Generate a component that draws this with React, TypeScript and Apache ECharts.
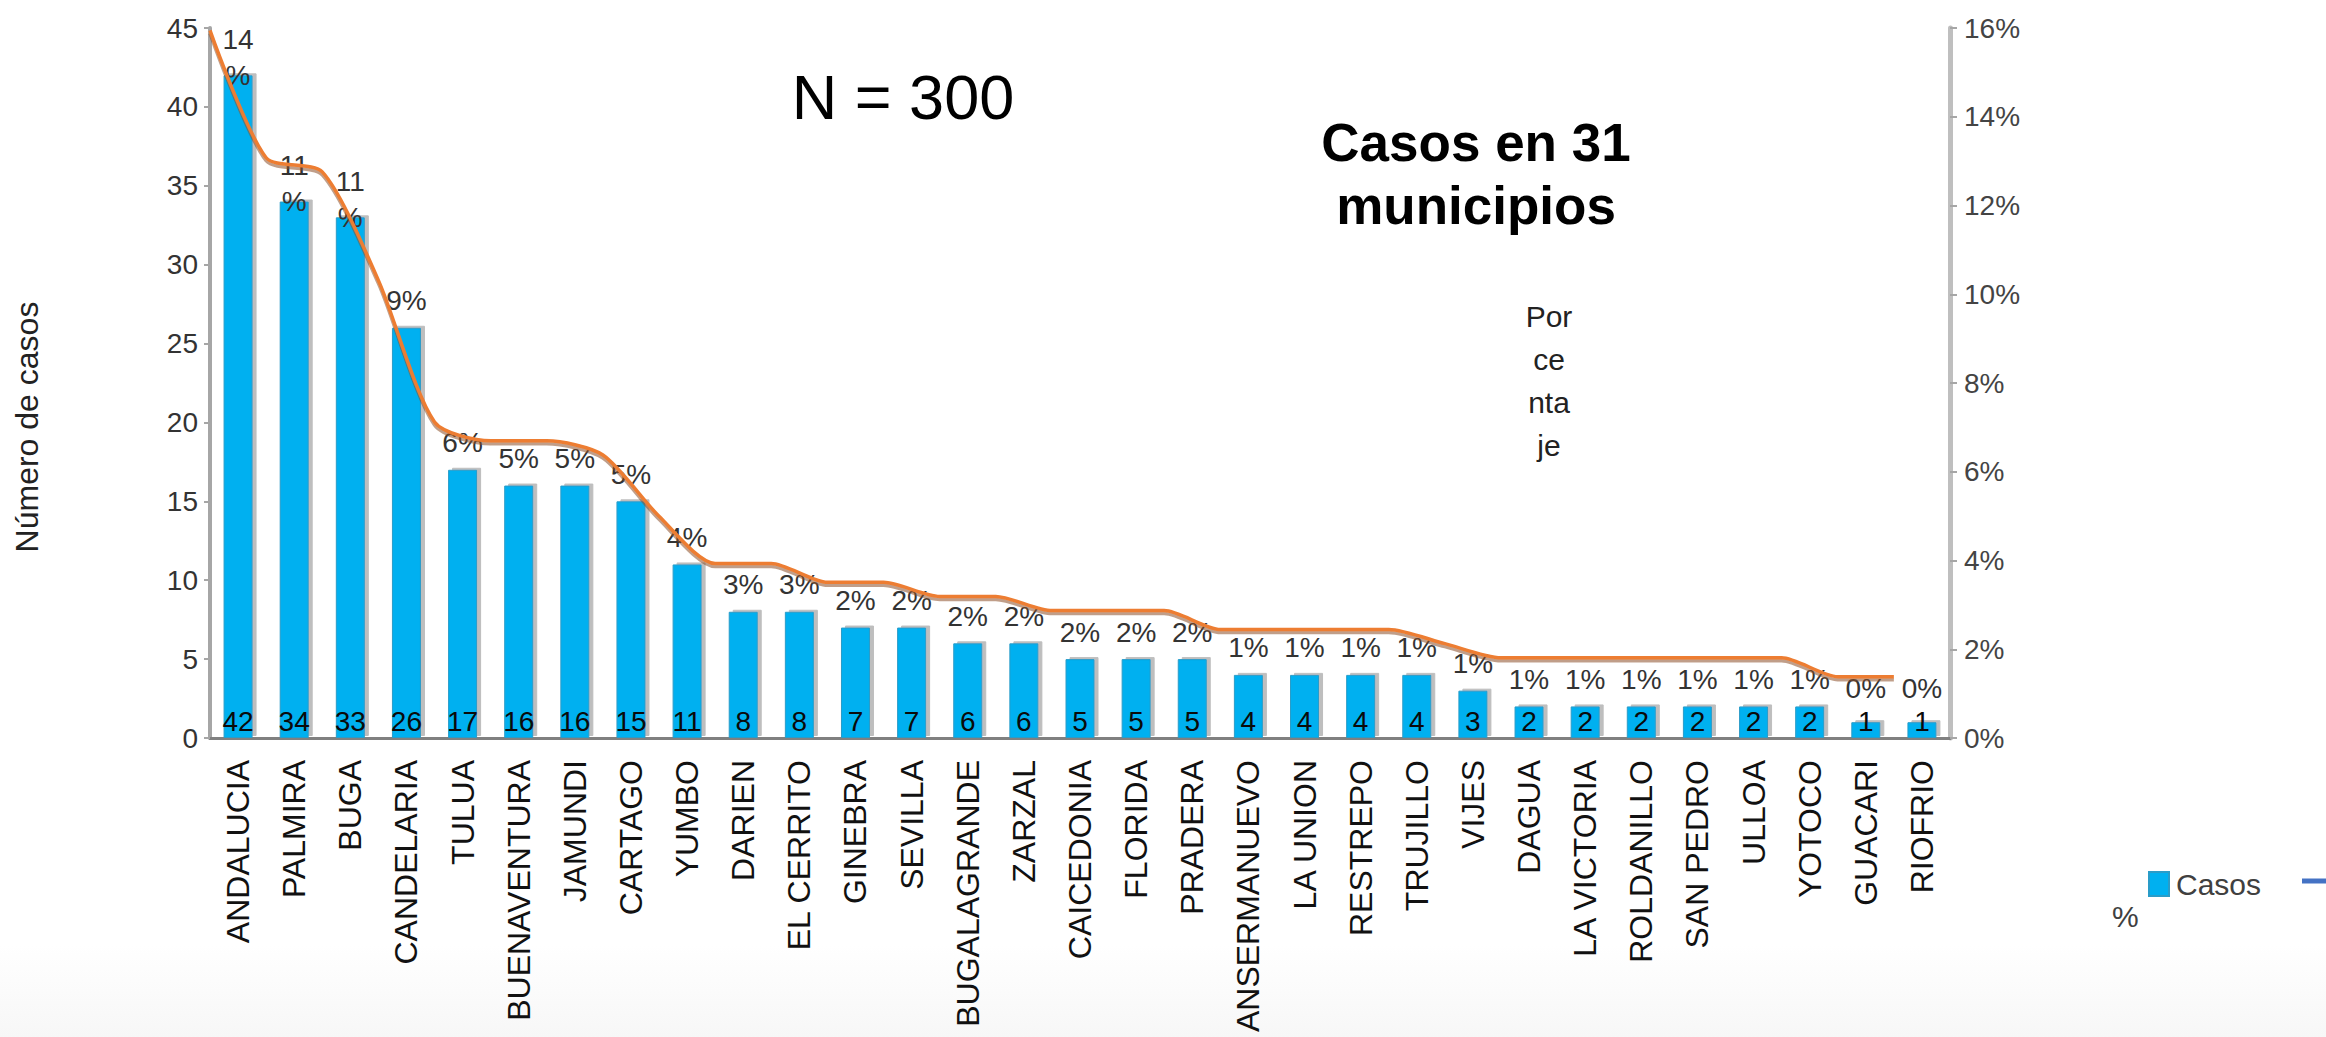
import React, { useEffect, useRef } from "react";
import * as echarts from "echarts";

const categories = [
  "ANDALUCIA", "PALMIRA", "BUGA", "CANDELARIA", "TULUA", "BUENAVENTURA", "JAMUNDI", "CARTAGO",
  "YUMBO", "DARIEN", "EL CERRITO", "GINEBRA", "SEVILLA", "BUGALAGRANDE", "ZARZAL", "CAICEDONIA",
  "FLORIDA", "PRADERA", "ANSERMANUEVO", "LA UNION", "RESTREPO", "TRUJILLO", "VIJES", "DAGUA",
  "LA VICTORIA", "ROLDANILLO", "SAN PEDRO", "ULLOA", "YOTOCO", "GUACARI", "RIOFRIO",
];
const casos = [42, 34, 33, 26, 17, 16, 16, 15, 11, 8, 8, 7, 7, 6, 6, 5, 5, 5, 4, 4, 4, 4, 3, 2, 2, 2, 2, 2, 2, 1, 1];
const porcentaje = [14.0, 11.3, 11.0, 8.7, 5.7, 5.3, 5.3, 5.0, 3.7, 2.7, 2.7, 2.3, 2.3, 2.0, 2.0, 1.7, 1.7, 1.7, 1.3, 1.3, 1.3, 1.3, 1.0, 0.7, 0.7, 0.7, 0.7, 0.7, 0.7, 0.3, 0.3];
const pctLabels = [
  "14\n%", "11\n%", "11\n%", "9%", "6%", "5%", "5%", "5%", "4%", "3%", "3%", "2%", "2%", "2%", "2%", "2%",
  "2%", "2%", "1%", "1%", "1%", "1%", "1%", "1%", "1%", "1%", "1%", "1%", "1%", "0%", "0%",
];
const leftTicks = { min: 0, max: 45, interval: 5 };
const rightTicks = { min: 0, max: 16, interval: 2 };

const FONT = "'Liberation Sans', Arial, sans-serif";

export default function App() {
  const ref = useRef<HTMLDivElement>(null);
  useEffect(() => {
    if (!ref.current) return;
    const chart = echarts.init(ref.current, null, { renderer: "svg" });
    const pctLabelFor = (i: number) => {
      if (porcentaje[i] >= 10) return { distance: -18 };
      if (casos[i] <= 1) return { distance: 16 };
      return undefined;
    };
    const option: any = {
      animation: false,
      backgroundColor: "#ffffff",
      textStyle: { fontFamily: FONT },
      grid: {
        left: 210,
        right: 376,
        top: 28,
        height: 710,
        containLabel: false,
        outerBoundsMode: "none",
      },
      legend: {
        data: ["Casos"],
        left: 2148,
        top: 869,
        padding: 0,
        itemWidth: 20,
        itemHeight: 24,
        itemGap: 10,
        icon: "rect",
        textStyle: { fontFamily: FONT, fontSize: 30, color: "#404040", padding: [0, 0, 0, 2] },
      },
      xAxis: [
        {
          type: "category",
          data: categories,
          axisLine: { lineStyle: { color: "#808080", width: 3 } },
          axisTick: { show: false },
          axisLabel: {
            rotate: 90,
            interval: 0,
            margin: 22,
            fontFamily: FONT,
            fontSize: 32,
            color: "#111111",
          },
        },
        { type: "value", min: 0, max: 31, show: false },
      ],
      yAxis: [
        {
          type: "value",
          min: leftTicks.min,
          max: leftTicks.max,
          interval: leftTicks.interval,
          position: "left",
          splitLine: { show: false },
          axisLine: { show: true, lineStyle: { color: "#a6a6a6", width: 4 } },
          axisTick: { show: true, length: 6, lineStyle: { color: "#a6a6a6", width: 2 } },
          axisLabel: { fontFamily: FONT, fontSize: 28, color: "#333333", margin: 12 },
        },
        {
          type: "value",
          min: rightTicks.min,
          max: rightTicks.max,
          interval: rightTicks.interval,
          position: "right",
          splitLine: { show: false },
          axisLine: { show: true, lineStyle: { color: "#bfbfbf", width: 5 } },
          axisTick: { show: true, length: 7, lineStyle: { color: "#a6a6a6", width: 2 } },
          axisLabel: { fontFamily: FONT, fontSize: 28, color: "#444444", margin: 14, formatter: "{value}%" },
        },
        { type: "value", min: -1, max: 14.05, show: false },
      ],
      series: [
        {
          name: "Casos",
          type: "bar",
          xAxisIndex: 0,
          yAxisIndex: 0,
          barWidth: 29,
          data: casos.map((v, i) => ({ value: v, label: pctLabelFor(i) })),
          itemStyle: {
            color: "#00B0F0",
            borderColor: "#2a9cc8",
            borderWidth: 1,
            shadowColor: "rgba(110,110,110,0.45)",
            shadowOffsetX: 4,
            shadowOffsetY: -2,
            shadowBlur: 1,
          },
          label: {
            show: true,
            position: "top",
            distance: 9,
            fontFamily: FONT,
            fontSize: 28,
            lineHeight: 36,
            color: "#333333",
            formatter: (p: any) => pctLabels[p.dataIndex],
          },
          z: 2,
        },
        {
          name: "counts",
          type: "bar",
          xAxisIndex: 0,
          yAxisIndex: 0,
          barWidth: 29,
          barGap: "-100%",
          data: casos,
          itemStyle: { color: "rgba(0,0,0,0)" },
          label: {
            show: true,
            position: "insideBottom",
            distance: 3,
            fontFamily: FONT,
            fontSize: 28,
            color: "#0a0a0a",
          },
          z: 3,
        },
        {
          name: "%",
          type: "line",
          xAxisIndex: 1,
          yAxisIndex: 2,
          data: porcentaje.map((v, i) => [i, v]),
          symbol: "none",
          smooth: 0.25,
          lineStyle: {
            color: "#ED7D31",
            width: 3.5,
            shadowColor: "rgba(140,80,40,0.55)",
            shadowOffsetY: 3,
            shadowBlur: 1,
          },
          z: 4,
        },
      ],
      graphic: [
        {
          type: "rect",
          left: 0,
          top: 945,
          shape: { width: 2326, height: 92 },
          style: {
            fill: new echarts.graphic.LinearGradient(0, 0, 0, 1, [
              { offset: 0, color: "#ffffff" },
              { offset: 1, color: "#f7f7f7" },
            ]),
          },
          z: -10,
          silent: true,
        },
        {
          type: "text",
          x: 27,
          y: 427,
          rotation: Math.PI / 2,
          style: {
            text: "Número de casos",
            fontFamily: FONT,
            fontSize: 32,
            fill: "#222222",
            align: "center",
            verticalAlign: "middle",
          },
        },
        {
          type: "text",
          x: 903,
          y: 97,
          style: {
            text: "N = 300",
            fontFamily: FONT,
            fontSize: 63,
            fill: "#000000",
            align: "center",
            verticalAlign: "middle",
          },
        },
        {
          type: "text",
          x: 1476,
          y: 174,
          style: {
            text: "Casos en 31\nmunicipios",
            fontFamily: FONT,
            fontSize: 53,
            fontWeight: "bold",
            lineHeight: 63,
            fill: "#000000",
            align: "center",
            verticalAlign: "middle",
          },
        },
        {
          type: "text",
          x: 1549,
          y: 381,
          style: {
            text: "Por\nce\nnta\nje",
            fontFamily: FONT,
            fontSize: 30,
            lineHeight: 43,
            fill: "#222222",
            align: "center",
            verticalAlign: "middle",
          },
        },
        {
          type: "line",
          shape: { x1: 2302, y1: 881, x2: 2330, y2: 881 },
          style: { stroke: "#4472C4", lineWidth: 5 },
        },
        {
          type: "text",
          x: 2112,
          y: 916,
          style: {
            text: "%",
            fontFamily: FONT,
            fontSize: 30,
            fill: "#404040",
            align: "left",
            verticalAlign: "middle",
          },
        },
      ],
    };
    chart.setOption(option);
    return () => chart.dispose();
  }, []);
  return (
    <div
      ref={ref}
      style={{ position: "fixed", left: 0, top: 0, width: 2326, height: 1037, background: "#fff" }}
    />
  );
}
